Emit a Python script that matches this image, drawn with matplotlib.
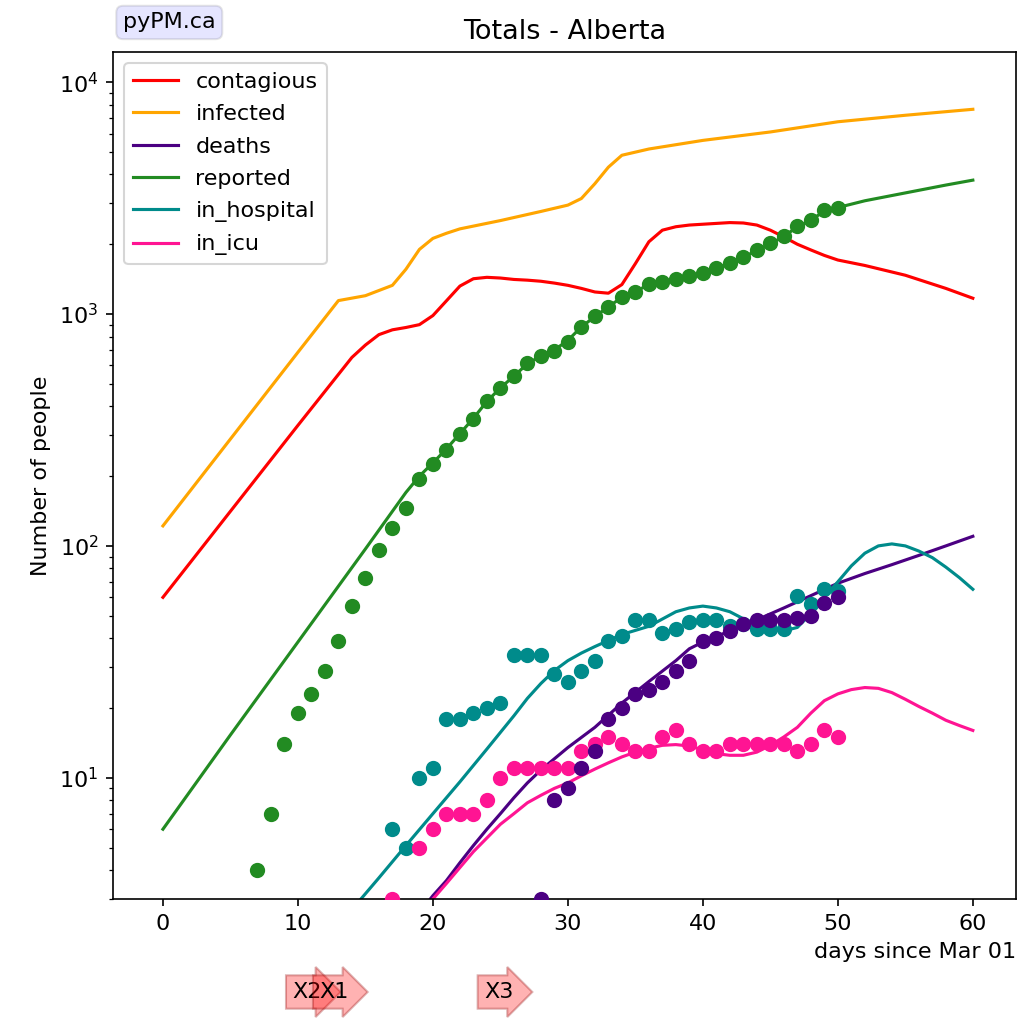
import numpy as np
import matplotlib
matplotlib.use("Agg")
import matplotlib.pyplot as plt

plt.rcParams["font.size"] = 10.7

# model curves (days since Mar 01 -> number of people)
days_contagious = [0, 5, 10, 14, 15, 16, 17, 18, 19, 20, 21, 22, 23, 24, 25, 26, 27, 28, 29, 30,
                   31, 32, 33, 34, 35, 36, 37, 38, 39, 40, 41, 42, 43, 44, 45, 46, 47, 48, 49, 50,
                   52, 55, 58, 60]
contagious = [60, 141, 331, 650, 735, 815, 855, 875, 900, 985, 1140, 1320, 1420, 1440, 1430, 1410,
              1400, 1385, 1360, 1330, 1290, 1245, 1230, 1340, 1650, 2050, 2300, 2380, 2420, 2440,
              2460, 2480, 2470, 2420, 2300, 2150, 2000, 1890, 1790, 1710, 1620, 1470, 1290, 1170]

days_infected = [0, 5, 10, 13, 15, 17, 18, 19, 20, 21, 22, 25, 28, 30, 31, 32, 33, 34, 36, 40,
                 45, 50, 55, 60]
infected = [122, 289, 684, 1143, 1200, 1330, 1560, 1900, 2120, 2230, 2330, 2530, 2770, 2950,
            3150, 3650, 4300, 4840, 5150, 5610, 6100, 6750, 7200, 7640]

days_deaths = [18, 20, 21, 22, 23, 24, 25, 26, 27, 28, 30, 32, 34, 36, 38, 39, 40, 42, 44, 46,
               48, 50, 52, 54, 56, 58, 60]
deaths = [2.2, 3.1, 3.6, 4.3, 5.1, 6.0, 7.0, 8.2, 9.5, 10.8, 13.5, 16.5, 21, 26, 32, 36, 38.5,
          43, 48, 54, 61, 69, 76, 83, 91, 100, 110]

days_reported = [0, 5, 10, 15, 18, 19, 20, 21, 22, 23, 24, 25, 26, 27, 28, 29, 30, 31, 32, 33,
                 34, 35, 36, 37, 38, 39, 40, 41, 42, 43, 44, 45, 46, 47, 48, 49, 50, 52, 55, 58, 60]
reported = [6.0, 15.3, 38.5, 97, 170, 200, 228, 262, 305, 355, 420, 480, 540, 610, 660, 700,
            770, 880, 975, 1075, 1180, 1250, 1340, 1375, 1420, 1460, 1500, 1570, 1660, 1760,
            1880, 2010, 2160, 2380, 2540, 2780, 2880, 3080, 3330, 3600, 3780]

days_hospital = [13, 14, 16, 18, 20, 22, 24, 26, 27, 28, 29, 30, 31, 32, 34, 36, 38, 39, 40, 41,
                 42, 43, 44, 45, 46, 47, 48, 49, 50, 51, 52, 53, 54, 55, 56, 57, 58, 59, 60]
in_hospital = [2.2, 2.7, 3.7, 5.1, 7.0, 9.6, 13.3, 18.5, 22, 25.5, 29, 32, 34.5, 36.8, 41.5, 45,
               52, 54, 55, 54, 52, 48.5, 46, 44, 43, 44.5, 51, 60, 70, 82, 93, 100, 102, 100, 95,
               89, 81, 73, 65]

days_icu = [19, 20, 21, 22, 23, 24, 25, 26, 27, 28, 29, 30, 31, 32, 33, 34, 35, 36, 37, 38, 39,
            40, 41, 42, 43, 44, 45, 46, 47, 48, 49, 50, 51, 52, 53, 54, 55, 56, 57, 58, 59, 60]
in_icu = [2.6, 3.0, 3.5, 4.1, 4.8, 5.5, 6.3, 7.0, 7.8, 8.4, 9.0, 9.5, 10.2, 10.9, 11.6, 12.3,
          12.9, 13.4, 13.8, 13.9, 13.7, 13.2, 12.7, 12.5, 12.5, 12.9, 13.8, 15, 16.5, 19, 21.5,
          23, 24, 24.5, 24.3, 23.3, 21.8, 20.3, 19, 17.7, 16.8, 16]

# observed data
obs_reported_days = list(range(7, 51))
obs_reported = [4, 7, 14, 19, 23, 29, 39, 55, 73, 96, 120, 146, 195, 226, 260, 305, 354, 423,
                482, 542, 617, 662, 695, 761, 883, 976, 1077, 1190, 1250, 1354, 1368, 1410, 1452,
                1496, 1574, 1667, 1754, 1880, 2017, 2163, 2390, 2535, 2800, 2860]

obs_hospital_days = list(range(17, 51))
obs_hospital = [6, 5, 10, 11, 18, 18, 19, 20, 21, 34, 34, 34, 28, 26, 29, 32, 39, 41, 48, 48,
                42, 44, 47, 48, 48, 45, 46, 44, 44, 44, 61, 56, 65, 64]

obs_icu_days = [17] + list(range(19, 51))
obs_icu = [3, 5, 6, 7, 7, 7, 8, 10, 11, 11, 11, 11, 11, 13, 14, 15, 14, 13, 13, 15, 16, 14, 13,
           13, 14, 14, 14, 14, 14, 13, 14, 16, 15]

obs_deaths_days = list(range(28, 51))
obs_deaths = [3, 8, 9, 11, 13, 18, 20, 23, 24, 26, 29, 32, 39, 40, 43, 46, 48, 48, 48, 49, 50,
              57, 60]

# transitions
trans_labels = ["X2", "X1", "X3"]
trans_days = [10.7, 12.7, 24.9]

fig = plt.figure(figsize=(1029/150, 1021/150), dpi=150)
ax = fig.add_axes([0.1098, 0.1195, 0.8776, 0.8296])

ax.plot(days_contagious, contagious, color="red", label="contagious")
ax.plot(days_infected, infected, color="orange", label="infected")
ax.plot(days_deaths, deaths, color="indigo", label="deaths")
ax.plot(days_reported, reported, color="forestgreen", label="reported")
ax.plot(days_hospital, in_hospital, color="darkcyan", label="in_hospital")
ax.plot(days_icu, in_icu, color="deeppink", label="in_icu")

ax.scatter(obs_reported_days, obs_reported, color="forestgreen", s=40, zorder=3)
ax.scatter(obs_hospital_days, obs_hospital, color="darkcyan", s=40, zorder=3)
ax.scatter(obs_icu_days, obs_icu, color="deeppink", s=40, zorder=3)
ax.scatter(obs_deaths_days, obs_deaths, color="indigo", s=40, zorder=3)

ax.set_yscale("log")
ax.set_xlim(-3.7, 63.2)
ax.set_ylim(3, 13500)
ax.set_title("Totals - Alberta", fontsize=13)
ax.set_ylabel("Number of people")
ax.set_xlabel("days since Mar 01", loc="right")
ax.legend(loc="upper left", labelspacing=0.55)

fig.text(0.1195, 0.978, "pyPM.ca", ha="left", va="center",
         bbox=dict(boxstyle="round", facecolor="blue", alpha=0.1))

trans = matplotlib.transforms.blended_transform_factory(ax.transData, fig.transFigure)
for lab, d in zip(trans_labels, trans_days):
    ax.text(d, 0.0284, lab, transform=trans, ha="center", va="center",
            bbox=dict(boxstyle="rarrow", fc="red", ec="darkred", alpha=0.3))

fig.savefig("out.png", dpi=150)
